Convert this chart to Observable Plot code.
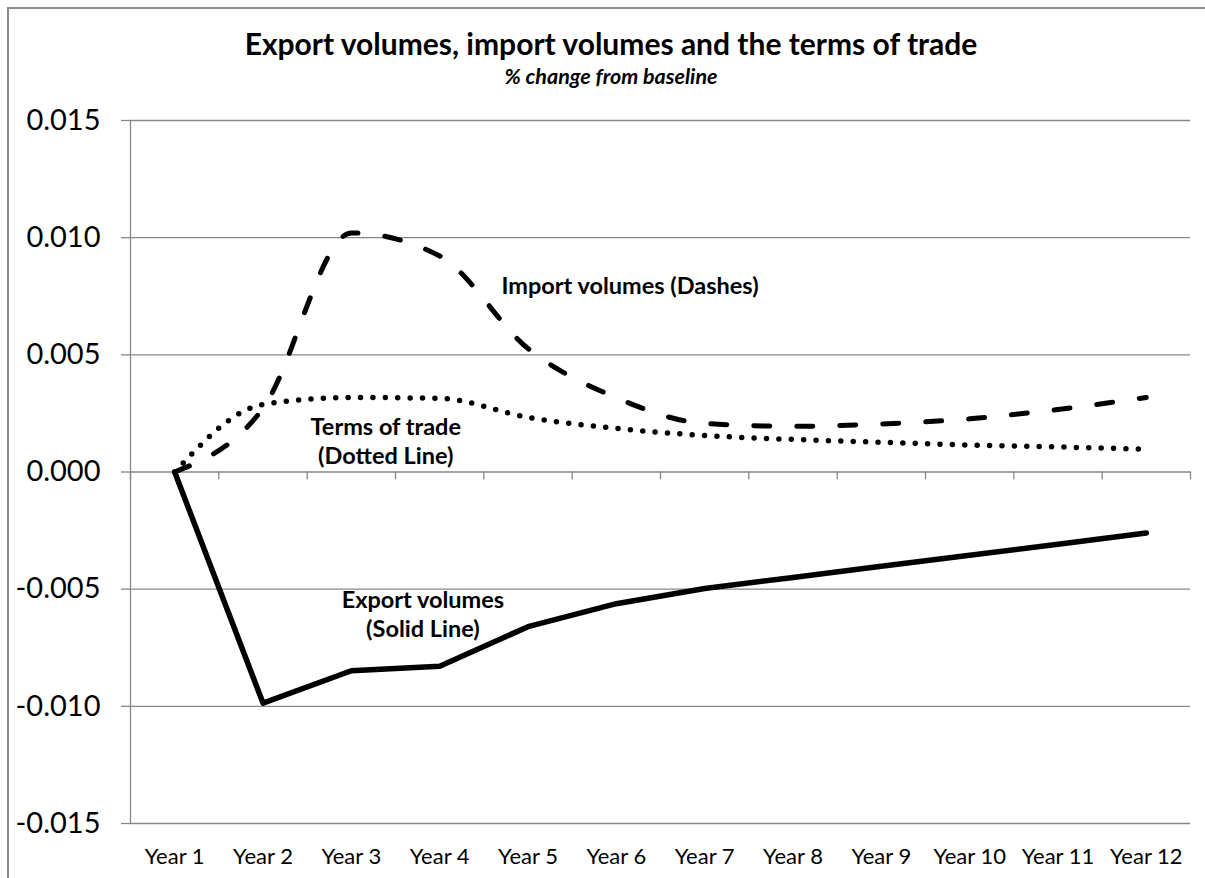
<!DOCTYPE html>
<html>
<head>
<meta charset="utf-8">
<script src="https://cdn.jsdelivr.net/npm/d3@7"></script>
<script src="https://cdn.jsdelivr.net/npm/@observablehq/plot@0.6"></script>
<style>
  html, body { margin: 0; padding: 0; background: #fff; overflow: hidden; }
  #wrap { position: relative; width: 1205px; height: 878px; overflow: hidden; background: #fff; }
  #border { position: absolute; left: 7px; top: 7px; width: 1300px; height: 1000px;
            border-left: 2px solid #8c8c8c; border-top: 2px solid #8c8c8c; box-sizing: border-box; }
  #title { position: absolute; left: 0; width: 1222px; top: 28px; text-align: center;
           font-family: Lato, "Open Sans", sans-serif; font-weight: bold; font-size: 30px; color: #000; line-height: 30px; }
  #subtitle { position: absolute; left: 0; width: 1222px; top: 65px; text-align: center;
           font-family: Lato, "Open Sans", sans-serif; font-weight: bold; font-style: italic; font-size: 21.5px; color: #000; line-height: 22px; }
  #chart { position: absolute; left: 0; top: 0; }
</style>
</head>
<body>
<div id="wrap">
  <div id="border"></div>
  <div id="title">Export volumes, import volumes and the terms of trade</div>
  <div id="subtitle">% change from baseline</div>
  <div id="chart"></div>
</div>
<script>
const years = ["Year 1", "Year 2", "Year 3", "Year 4", "Year 5", "Year 6",
               "Year 7", "Year 8", "Year 9", "Year 10", "Year 11", "Year 12"];
const exportVolumes = [0, -0.00986, -0.00848, -0.00829, -0.00660, -0.00562,
                       -0.00497, -0.00450, -0.00402, -0.00355, -0.00308, -0.00260];
const importVolumes = [0, 0.00272, 0.01020, 0.00922, 0.00527, 0.00317,
                       0.00207, 0.00195, 0.00205, 0.00227, 0.00267, 0.00318];
const termsOfTrade = [0, 0.00288, 0.00318, 0.00314, 0.00233, 0.00186,
                      0.00156, 0.00139, 0.00127, 0.00115, 0.00107, 0.00097];
const yTicks = [-0.015, -0.010, -0.005, 0, 0.005, 0.010, 0.015];
const annotationLabels = ["Import volumes (Dashes)", "Terms of trade\n(Dotted Line)", "Export volumes\n(Solid Line)"];
const annotationX = [6.155, 3.39, 3.81];
const annotationY = [0.00801, 0.00134, -0.00603];

const rows = years.map((name, k) => ({
  pos: k + 1, name, exp: exportVolumes[k], imp: importVolumes[k], tot: termsOfTrade[k]
}));
const xDomain = [0.5, years.length + 0.5];
const boundaries = d3.range(0, years.length + 1).map(k => k + 0.5);
const annotations = annotationLabels.map((label, k) => ({label, x: annotationX[k], y: annotationY[k]}));
const grid = "#878787";

const chart = Plot.plot({
  width: 1205,
  height: 878,
  marginTop: 120,
  marginBottom: 55,
  marginLeft: 130,
  marginRight: 15,
  style: { background: "transparent", fontFamily: "Lato, 'Open Sans', sans-serif", color: "#000" },
  x: { type: "linear", domain: xDomain },
  y: { domain: [yTicks[0], yTicks[yTicks.length - 1]] },
  marks: [
    Plot.ruleY(yTicks, { stroke: grid, strokeWidth: 1.3 }),
    Plot.ruleX([xDomain[0]], { stroke: grid, strokeWidth: 1.3 }),
    Plot.ruleX(boundaries, { y1: 0, y2: 0, insetBottom: -8, stroke: grid, strokeWidth: 1.3 }),
    Plot.axisY({ ticks: yTicks, tickFormat: d => d.toFixed(3), tickSize: 9, tickPadding: 21,
                 fontSize: 29, stroke: grid, strokeWidth: 1.3, label: null }),
    Plot.axisX({ ticks: rows.map(r => r.pos), tickFormat: p => years[p - 1], tickSize: 0,
                 tickPadding: 25, fontSize: 22, label: null }),
    Plot.line(rows, { x: "pos", y: "tot", stroke: "#000", strokeWidth: 5.5,
                      strokeDasharray: "0,12.4", strokeLinecap: "round", curve: "monotone-x" }),
    Plot.line(rows, { x: "pos", y: "imp", stroke: "#000", strokeWidth: 5,
                      strokeDasharray: "16,27", strokeLinecap: "round", curve: "monotone-x" }),
    Plot.line(rows, { x: "pos", y: "exp", stroke: "#000", strokeWidth: 5.5,
                      strokeLinecap: "round", strokeLinejoin: "round" }),
    Plot.text(annotations, { x: "x", y: "y", text: "label", fontWeight: "bold", fontSize: 23.5,
                             lineHeight: 1.24, fill: "#000" })
  ]
});
document.getElementById("chart").appendChild(chart);
</script>
</body>
</html>
